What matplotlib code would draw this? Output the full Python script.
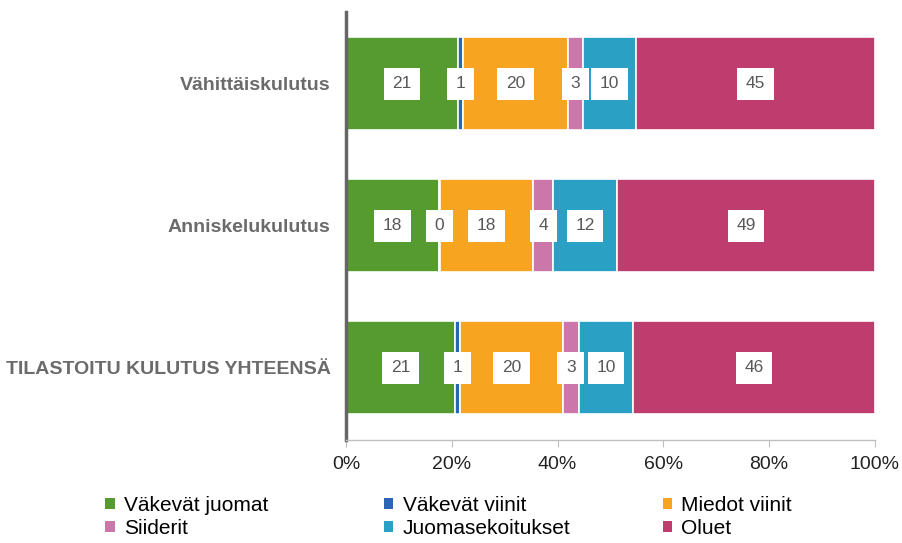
import matplotlib.pyplot as plt
import numpy as np
from matplotlib.patches import Patch

plt.rcParams['font.family'] = ['Liberation Sans', 'DejaVu Sans']

categories = ['Vähittäiskulutus', 'Anniskelukulutus', 'TILASTOITU KULUTUS YHTEENSÄ']
series = ['Väkevät juomat', 'Väkevät viinit', 'Miedot viinit', 'Siiderit', 'Juomasekoitukset', 'Oluet']
colors = ['#559B30', '#2E64B4', '#F7A520', '#CC77AA', '#29A0C4', '#BE3C6E']

vakevat_juomat = [21.2, 17.6, 20.7]
vakevat_viinit = [0.9, 0.2, 0.9]
miedot_viinit = [19.9, 17.6, 19.4]
siiderit = [2.8, 3.8, 3.0]
juomasekoitukset = [10.0, 12.0, 10.3]
oluet = [45.2, 48.8, 45.7]
labels = [[21, 18, 21], [1, 0, 1], [20, 18, 20], [3, 4, 3], [10, 12, 10], [45, 49, 46]]

values = [vakevat_juomat, vakevat_viinit, miedot_viinit, siiderit, juomasekoitukset, oluet]

fig = plt.figure(figsize=(9.02, 5.43), dpi=100)
ax = fig.add_axes([0.3836, 0.19, 0.5864, 0.788])

y = np.arange(len(categories))
left = np.zeros(len(categories))
for vals, lab, col in zip(values, labels, colors):
    vals = np.array(vals)
    ax.barh(y, vals, left=left, height=0.655, color=col, edgecolor='white', linewidth=1.2)
    for yi, (l, v, t) in enumerate(zip(left, vals, lab)):
        ax.text(l + v / 2, yi, str(t), ha='center', va='center', fontsize=12.5, color='#595959',
                bbox=dict(boxstyle='square,pad=0.5', facecolor='white', edgecolor='none'))
    left = left + vals

ax.set_xlim(0, 100)
ax.set_ylim(2.507, -0.507)
ax.set_xticks([0, 20, 40, 60, 80, 100])
ax.set_xticklabels(['0%', '20%', '40%', '60%', '80%', '100%'], fontsize=14, color='#222222')
ax.set_yticks(y)
ax.set_yticklabels(categories, fontsize=14, fontweight='bold', color='#6b6b6b')
ax.tick_params(axis='y', length=0, pad=11)
ax.tick_params(axis='x', length=5, color='#bfbfbf', pad=7)
for s in ['top', 'right']:
    ax.spines[s].set_visible(False)
ax.spines['left'].set_color('#666666')
ax.spines['left'].set_linewidth(2.5)
ax.spines['bottom'].set_color('#bfbfbf')
ax.spines['bottom'].set_linewidth(1)

# legend, one column at a time (row-major order as in the original)
col_x = [0.112, 0.421, 0.730]
for i, x0 in enumerate(col_x):
    idx = [i, i + 3]
    hs = [Patch(facecolor=colors[k], edgecolor='none') for k in idx]
    fig.legend(hs, [series[k] for k in idx], loc='lower left', bbox_to_anchor=(x0, 0.002),
               frameon=False, fontsize=15, handlelength=0.45, handleheight=0.45,
               handletextpad=0.45, labelspacing=0.2, borderpad=0.2, borderaxespad=0)

fig.savefig('out.png', dpi=100)
